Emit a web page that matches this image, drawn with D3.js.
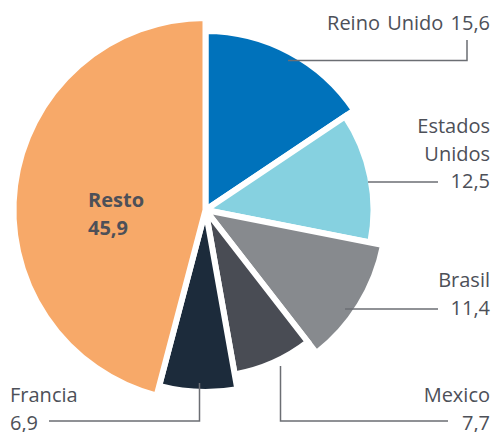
<!DOCTYPE html>
<html>
<head>
<meta charset="utf-8">
<script src="https://cdn.jsdelivr.net/npm/d3@7"></script>
<style>
  body { margin: 0; background: #fff; }
  svg { display: block; font-family: "Open Sans", "Noto Sans", sans-serif; }
</style>
</head>
<body>
<svg width="495" height="432"></svg>
<script>
let width = 495, height = 432;

// Data
const categories = ["Reino Unido", "Estados Unidos", "Brasil", "Mexico", "Francia", "Resto"];
const values = [15.6, 12.5, 11.4, 7.7, 6.9, 45.9];
const valueLabels = ["15,6", "12,5", "11,4", "7,7", "6,9", "45,9"];

// Styling per slice
const colors = ["#0072bb", "#86d1e0", "#878a8e", "#494c54", "#1c2b3b", "#f7a969"];
const radii = [179, 168, 181, 167, 182, 192];

let svg = d3.select("svg")
    .attr("viewBox", "0 0 " + width + " " + height);

let cx = 205.5, cy = 210;

let pie = d3.pie().sort(null).value(d => d.value);
let arcs = pie(categories.map((c, i) => ({ name: c, value: values[i], i: i })));

let g = svg.append("g").attr("transform", "translate(" + cx + "," + cy + ")");

g.selectAll("path")
    .data(arcs)
    .enter()
    .append("path")
    .attr("d", d => d3.arc().innerRadius(0).outerRadius(radii[d.data.i])(d))
    .attr("fill", d => colors[d.data.i])
    .attr("stroke", "#fff")
    .attr("stroke-width", 6)
    .attr("stroke-linejoin", "miter");

// Leader lines (annotation layout)
const leaders = [
    [[288, 60.5], [467, 60.5], [467, 40]],
    [[368, 182], [438, 182]],
    [[345, 309], [438, 309]],
    [[280.5, 366], [280.5, 421], [448, 421]],
    [[199.5, 383], [199.5, 421], [49, 421]]
];

svg.append("g")
    .selectAll("path")
    .data(leaders)
    .enter()
    .append("path")
    .attr("d", d => d3.line()(d))
    .attr("fill", "none")
    .attr("stroke", "#6b6e73")
    .attr("stroke-width", 1.5);

// Labels
const labels = [
    { lines: [categories[0] + " " + valueLabels[0]], x: 490, y: 30, anchor: "end", ws: 2 },
    { lines: ["Estados", "Unidos", valueLabels[1]], x: 490, y: 133, anchor: "end" },
    { lines: [categories[2], valueLabels[2]], x: 490, y: 287, anchor: "end" },
    { lines: [categories[3], valueLabels[3]], x: 490, y: 402, anchor: "end" },
    { lines: [categories[4], valueLabels[4]], x: 10, y: 402, anchor: "start" },
    { lines: [categories[5], valueLabels[5]], x: 88, y: 207, anchor: "start", bold: true }
];

let lineH = 27.5;

labels.forEach(l => {
    let t = svg.append("text")
        .attr("x", l.x)
        .attr("y", l.y)
        .attr("text-anchor", l.anchor)
        .attr("fill", "#4d5058")
        .style("font-size", "20px")
        .style("word-spacing", (l.ws || 0) + "px")
        .style("font-weight", l.bold ? "bold" : "normal");
    l.lines.forEach((s, k) => {
        t.append("tspan")
            .attr("x", l.x)
            .attr("y", l.y + k * lineH)
            .text(s);
    });
});
</script>
</body>
</html>
